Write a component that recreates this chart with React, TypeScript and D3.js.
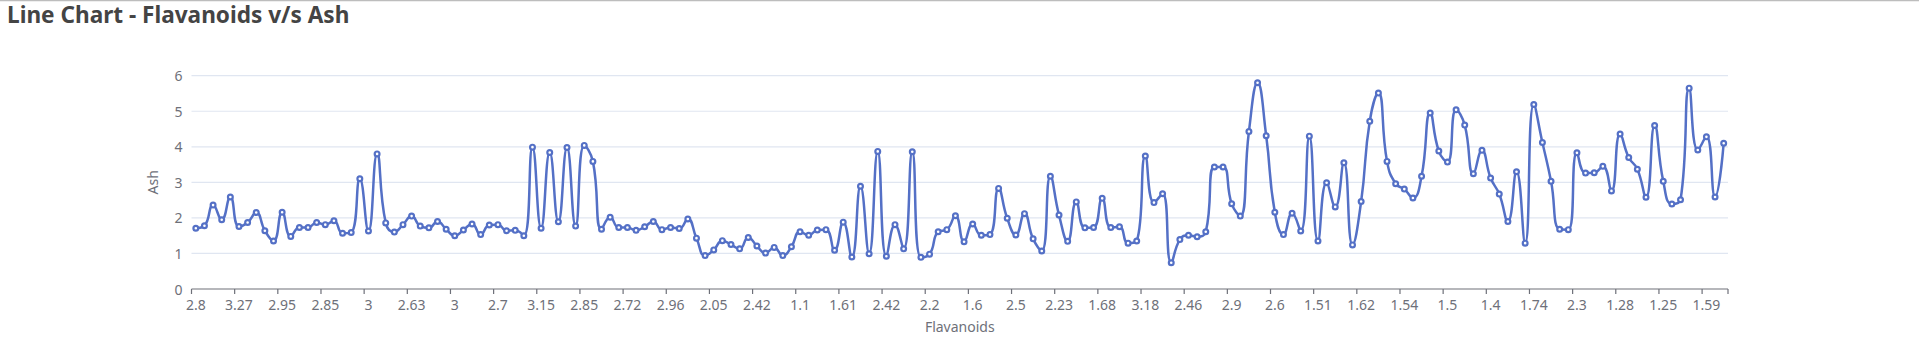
import React from "react";
import * as d3 from "d3";

const W = 1919;
const H = 359;

// y values (plotted series)
const ashValues: number[] = [
  1.71, 1.78, 2.36, 1.95, 2.59, 1.76, 1.87, 2.15, 1.64, 1.35, 2.16, 1.48, 1.73, 1.73, 1.87, 1.81, 1.92, 1.57, 1.59, 3.1,
  1.63, 3.8, 1.86, 1.6, 1.81, 2.05, 1.77, 1.72, 1.9, 1.68, 1.5, 1.66, 1.83, 1.53, 1.8, 1.81, 1.64, 1.65, 1.5, 3.99,
  1.71, 3.84, 1.89, 3.98, 1.77, 4.04, 3.59, 1.68, 2.02, 1.73, 1.73, 1.65, 1.75, 1.9, 1.67, 1.73, 1.7, 1.97, 1.43, 0.94,
  1.1, 1.36, 1.25, 1.13, 1.45, 1.21, 1.01, 1.17, 0.94, 1.19, 1.61, 1.51, 1.66, 1.67, 1.09, 1.88, 0.9, 2.89, 0.99, 3.87,
  0.92, 1.81, 1.13, 3.86, 0.89, 0.98, 1.61, 1.67, 2.06, 1.33, 1.83, 1.51, 1.53, 2.83, 1.99, 1.52, 2.12, 1.41, 1.07, 3.17,
  2.08, 1.34, 2.45, 1.72, 1.73, 2.55, 1.73, 1.75, 1.29, 1.35, 3.74, 2.43, 2.68, 0.74, 1.39, 1.51, 1.47, 1.61, 3.43, 3.43,
  2.4, 2.05, 4.43, 5.8, 4.31, 2.16, 1.53, 2.13, 1.63, 4.3, 1.35, 2.99, 2.31, 3.55, 1.24, 2.46, 4.72, 5.51, 3.59, 2.96,
  2.81, 2.56, 3.17, 4.95, 3.88, 3.57, 5.04, 4.61, 3.24, 3.9, 3.12, 2.67, 1.9, 3.3, 1.29, 5.19, 4.12, 3.03, 1.68, 1.67,
  3.83, 3.26, 3.27, 3.45, 2.76, 4.36, 3.7, 3.37, 2.58, 4.6, 3.03, 2.39, 2.51, 5.65, 3.91, 4.28, 2.59, 4.1,
];

// x category labels
const flavanoidLabels: string[] = [
  "2.8", "2.65", "2.8", "3.85", "2.8", "3.27", "2.5", "2.6", "2.8", "2.98", "2.95", "2.2", "2.6", "3.1", "3.3", "2.85", "2.8", "2.95", "3.3", "2.7",
  "3", "2.41", "2.61", "2.48", "2.53", "2.63", "2.85", "2.4", "2.95", "2.65", "3", "2.86", "2.42", "2.95", "2.35", "2.7", "2.6", "2.45", "2.4", "3",
  "3.15", "2.45", "3.25", "2.64", "3", "2.85", "3.25", "3.1", "2.75", "2.88", "2.72", "2.45", "3.88", "3", "2.6", "2.96", "3.2", "3", "3.4", "1.98",
  "2.05", "2.02", "2.1", "3.5", "1.89", "2.42", "2.98", "2.11", "2.53", "1.85", "1.1", "2.95", "1.88", "3.3", "3.38", "1.61", "1.95", "1.72", "1.9", "2.83",
  "2.42", "2.2", "2", "1.65", "2.2", "2.2", "1.78", "1.92", "1.95", "2.2", "1.6", "1.45", "1.38", "2.45", "3.02", "2.5", "1.6", "2.55", "3.52", "2.85",
  "2.23", "1.45", "2.56", "2.5", "2.2", "1.68", "1.65", "1.38", "2.36", "2.74", "3.18", "2.55", "1.75", "2.48", "2.56", "2.46", "1.98", "2", "1.63", "2",
  "2.9", "3.18", "2.2", "2.62", "2.86", "2.6", "2.74", "2.13", "2.22", "2.1", "1.51", "1.3", "1.15", "1.7", "2", "1.62", "1.38", "1.79", "1.62", "2.32",
  "1.54", "1.4", "1.55", "2", "1.38", "1.5", "0.98", "1.7", "1.93", "1.41", "1.4", "1.48", "2.2", "1.8", "1.48", "1.74", "1.8", "1.9", "2.8", "2.6",
  "2.3", "1.83", "1.65", "1.39", "1.35", "1.28", "1.7", "1.48", "1.55", "1.98", "1.25", "1.39", "1.68", "1.68", "1.8", "1.59", "1.65", "2.05",
];

const yTicks: number[] = [0, 1, 2, 3, 4, 5, 6];
const labelInterval = 5;
const titleText = "Line Chart - Flavanoids v/s Ash";
const xAxisName = "Flavanoids";
const yAxisName = "Ash";

// ECharts-like smooth curve (smooth = 0.5)
function echartsSmooth(context: any) {
  let pts: [number, number][] = [];
  const smooth = 0.5;
  return {
    areaStart() {},
    areaEnd() {},
    lineStart() {
      pts = [];
    },
    point(x: number, y: number) {
      pts.push([x, y]);
    },
    lineEnd() {
      const n = pts.length;
      if (!n) return;
      let prevX = 0, prevY = 0, cpx0 = 0, cpy0 = 0, cpx1 = 0, cpy1 = 0;
      for (let i = 0; i < n; i++) {
        const [x, y] = pts[i];
        if (i === 0) {
          context.moveTo(x, y);
          cpx0 = x;
          cpy0 = y;
        } else {
          let nextCpx0 = x, nextCpy0 = y;
          if (i + 1 >= n) {
            cpx1 = x;
            cpy1 = y;
          } else {
            const [nextX, nextY] = pts[i + 1];
            let vx = nextX - prevX;
            let vy = nextY - prevY;
            const dx0 = x - prevX, dx1 = nextX - x, dy0 = y - prevY, dy1 = nextY - y;
            const lenPrev = Math.sqrt(dx0 * dx0 + dy0 * dy0);
            const lenNext = Math.sqrt(dx1 * dx1 + dy1 * dy1);
            const ratio = lenNext / (lenNext + lenPrev);
            nextCpx0 = x + vx * smooth * ratio;
            nextCpy0 = y + vy * smooth * ratio;
            nextCpx0 = Math.min(nextCpx0, Math.max(nextX, x));
            nextCpy0 = Math.min(nextCpy0, Math.max(nextY, y));
            nextCpx0 = Math.max(nextCpx0, Math.min(nextX, x));
            nextCpy0 = Math.max(nextCpy0, Math.min(nextY, y));
            vx = nextCpx0 - x;
            vy = nextCpy0 - y;
            cpx1 = x - (vx * lenPrev) / lenNext;
            cpy1 = y - (vy * lenPrev) / lenNext;
            cpx1 = Math.min(cpx1, Math.max(prevX, x));
            cpy1 = Math.min(cpy1, Math.max(prevY, y));
            cpx1 = Math.max(cpx1, Math.min(prevX, x));
            cpy1 = Math.max(cpy1, Math.min(prevY, y));
            vx = x - cpx1;
            vy = y - cpy1;
            nextCpx0 = x + (vx * lenNext) / lenPrev;
            nextCpy0 = y + (vy * lenNext) / lenPrev;
          }
          context.bezierCurveTo(cpx0, cpy0, cpx1, cpy1, x, y);
          cpx0 = nextCpx0;
          cpy0 = nextCpy0;
        }
        prevX = x;
        prevY = y;
      }
    },
  };
}

export default function App() {
  const left = 191.5;
  const right = 1728;
  const top = 75.7;
  const bottom = 289;

  const idx = ashValues.map((_, i) => i);
  const x = d3.scaleBand<number>().domain(idx).range([left, right]).padding(0);
  const y = d3.scaleLinear().domain([0, 6]).range([bottom, top]);
  const bw = x.bandwidth();
  const cx = (i: number) => (x(i) as number) + bw / 2;

  const line = d3
    .line<number>()
    .x((d, i) => cx(i))
    .y((d) => y(d))
    .curve(echartsSmooth as any);

  const tickIdx = idx.filter((i) => i % labelInterval === 0);
  const axisColor = "#6E7079";
  const font = "'Noto Sans', 'Open Sans', sans-serif";

  return (
    <div style={{ position: "absolute", left: 0, top: 0, width: W, height: H, background: "#fff" }}>
      <svg width={W} height={H} style={{ display: "block" }}>
        <line x1={0} x2={W} y1={0.5} y2={0.5} stroke="#bdbdbd" strokeWidth={1.5} />
        <text x={7} y={23} fontFamily={font} fontWeight={700} fontSize={22.6} fill="#444">
          {titleText}
        </text>
        {yTicks.map((t) =>
          t === 0 ? null : (
            <line key={"g" + t} x1={left} x2={right} y1={y(t)} y2={y(t)} stroke="#E0E6F1" strokeWidth={1.2} />
          )
        )}
        {yTicks.map((t) => (
          <text
            key={"yl" + t}
            x={left - 9}
            y={y(t)}
            textAnchor="end"
            dominantBaseline="central"
            fontFamily={font}
            fontSize={14}
            fill={axisColor}
          >
            {t}
          </text>
        ))}
        <line x1={left} x2={right} y1={bottom} y2={bottom} stroke={axisColor} strokeWidth={1.2} />
        {tickIdx.map((i) => (
          <line key={"t" + i} x1={x(i) as number} x2={x(i) as number} y1={bottom} y2={bottom + 5} stroke={axisColor} strokeWidth={1.2} />
        ))}
        <line x1={right} x2={right} y1={bottom} y2={bottom + 5} stroke={axisColor} strokeWidth={1.2} />
        {tickIdx.map((i) => (
          <text
            key={"xl" + i}
            x={cx(i)}
            y={bottom + 15}
            textAnchor="middle"
            dominantBaseline="central"
            fontFamily={font}
            fontSize={14}
            fill={axisColor}
          >
            {flavanoidLabels[i]}
          </text>
        ))}
        <text x={(left + right) / 2} y={326} textAnchor="middle" dominantBaseline="central" fontFamily={font} fontSize={14} fill={axisColor}>
          {xAxisName}
        </text>
        <text
          transform={`translate(152,${(top + bottom) / 2}) rotate(-90)`}
          textAnchor="middle"
          dominantBaseline="central"
          fontFamily={font}
          fontSize={14}
          fill={axisColor}
        >
          {yAxisName}
        </text>
        <path d={line(ashValues) || ""} fill="none" stroke="#5470C6" strokeWidth={2.5} strokeLinejoin="bevel" />
        {ashValues.map((v, i) => (
          <circle key={"c" + i} cx={cx(i)} cy={y(v)} r={2.4} fill="#fff" stroke="#5470C6" strokeWidth={2.2} />
        ))}
      </svg>
    </div>
  );
}
